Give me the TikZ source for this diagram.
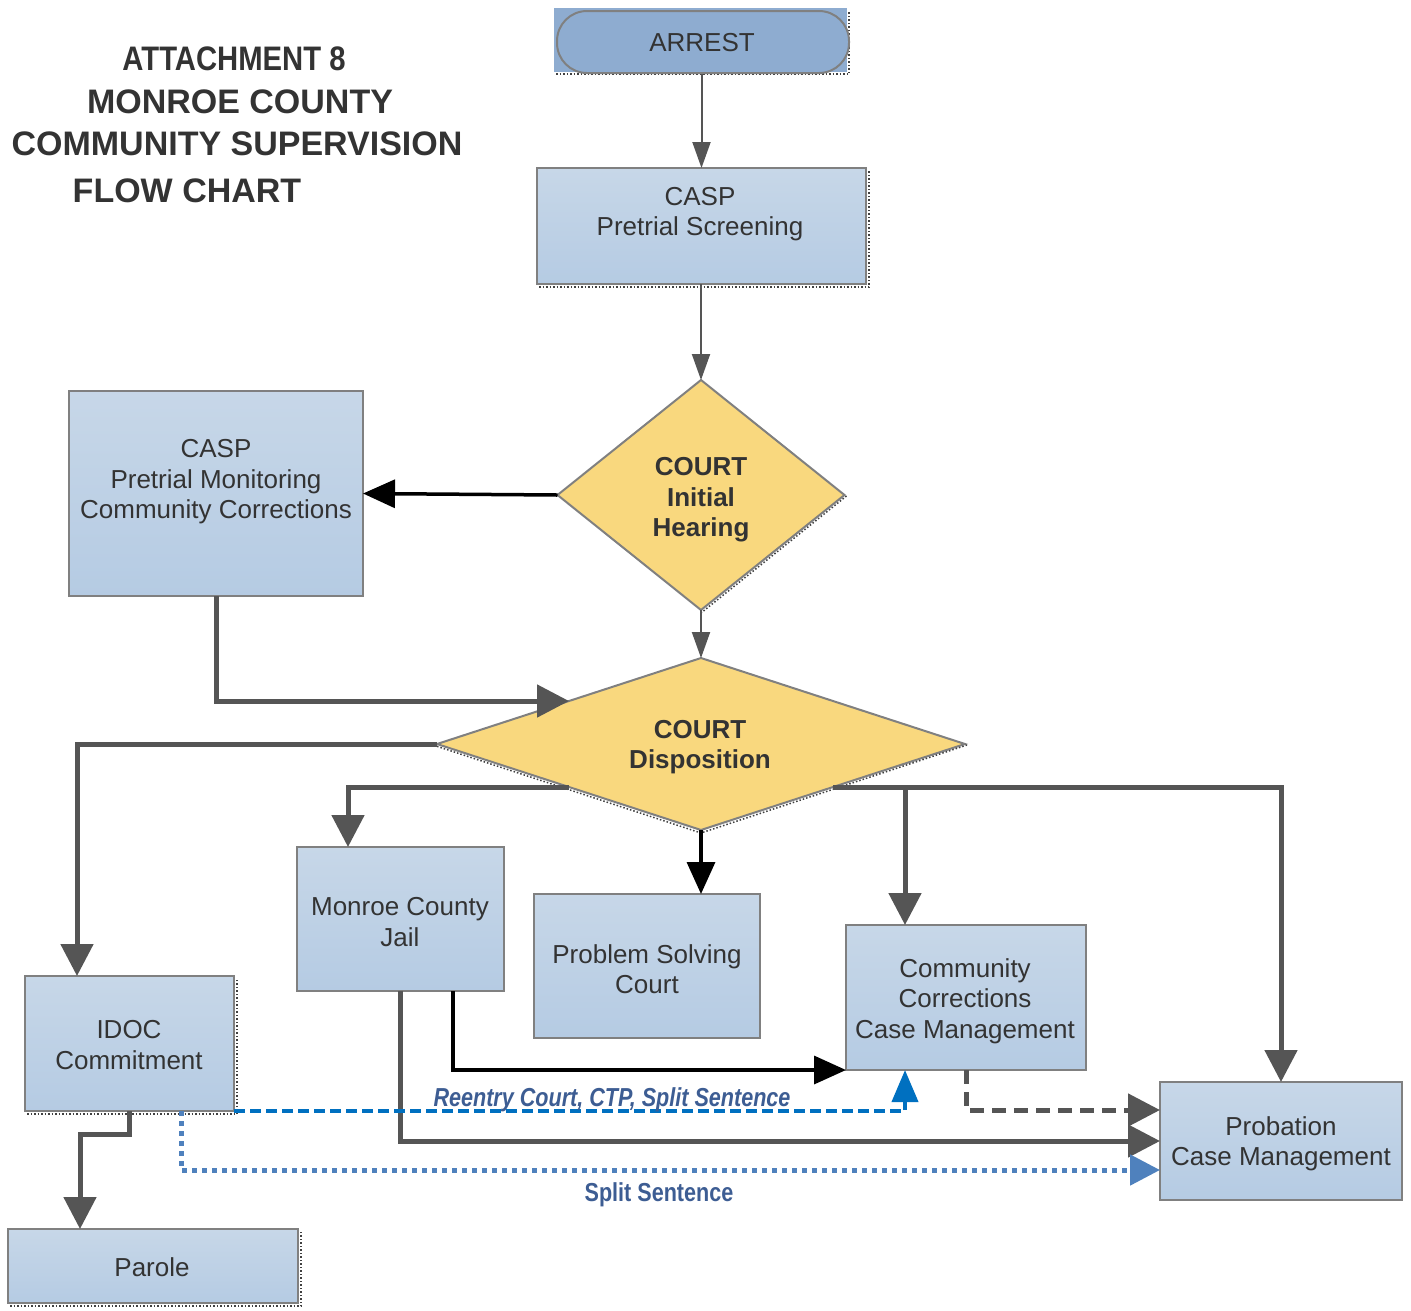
\documentclass[tikz,border=0pt]{standalone}
\usepackage{fontspec}
\setmainfont{Liberation Sans}
\usetikzlibrary{arrows.meta,shapes.geometric,calc}
\definecolor{boxtop}{HTML}{C7D7E8}
\definecolor{boxbot}{HTML}{B5CBE3}
\definecolor{bordergray}{HTML}{808080}
\definecolor{diafill}{HTML}{F9D87E}
\definecolor{arrestfill}{HTML}{8EACD0}
\definecolor{linegray}{HTML}{555555}
\definecolor{textgray}{HTML}{333333}
\definecolor{bluedash}{HTML}{0070C0}
\definecolor{bluedot}{HTML}{4F81BD}
\definecolor{labelblue}{HTML}{3D5D93}
\begin{document}
\begin{tikzpicture}[x=1pt,y=-1pt,
  box/.style={rectangle, draw=bordergray, line width=2pt, top color=boxtop, bottom color=boxbot, inner sep=0pt, outer sep=0pt, anchor=north west},
  dia/.style={diamond, draw=bordergray, line width=2pt, fill=diafill, inner sep=0pt, outer sep=0pt},
  txt/.style={font=\fontsize{26}{30.5}\selectfont, text=textgray, align=center, inner sep=0pt},
  btxt/.style={font=\fontsize{26}{30.5}\selectfont\bfseries, text=textgray, align=center, inner sep=0pt},
  ttl/.style={font=\fontsize{34}{40}\selectfont\bfseries, text=textgray, inner sep=0pt, anchor=base},
  lbl/.style={font=\fontsize{26}{30}\selectfont\bfseries, text=labelblue, inner sep=0pt},
  thinarr/.style={draw=linegray, line width=2pt, -{Triangle[width=18pt,length=26pt]}},
  thickarr/.style={draw=linegray, line width=5pt, -{Triangle[width=32pt,length=32pt]}},
  blackarr/.style={draw=black, line width=3.5pt, -{Triangle[width=28pt,length=32pt]}},
  shadow/.style={draw=black!75, line width=1.5pt, dotted},
]
\useasboundingbox (0,0) rectangle (1411,1310);

% title
\node[ttl] (t1) at (234,70) {\scalebox{0.86}[1]{ATTACHMENT 8}};
\node[ttl] (t2) at (240,113) {MONROE COUNTY};
\node[ttl] (t3) at (237,155) {COMMUNITY SUPERVISION};
\node[ttl] (t4) at (187,202) {FLOW CHART};

% arrest
\draw[shadow] (556,74) -- (849,74) -- (849,12);
\node[rectangle, fill=arrestfill, minimum width=293pt, minimum height=64pt, inner sep=0pt, anchor=north west] (arrestbg) at (554,8) {};
\node[rectangle, rounded corners=30pt, draw=bordergray, line width=2pt, fill=arrestfill, minimum width=292pt, minimum height=62pt, inner sep=0pt, anchor=north west] (arrest) at (556,10) {};
\node[txt] (arrestt) at (702,43) {ARREST};

% boxes
\node[box, minimum width=329pt, minimum height=116pt] (casp) at (537,168) {};
\draw[shadow] ($(casp.south west)+(2,3)$) -- ($(casp.south east)+(3,3)$) -- ($(casp.north east)+(3,2)$);
\node[txt] (caspt) at (700,214) {CASP\\Pretrial Screening};

\node[box, minimum width=294pt, minimum height=205pt] (pm) at (69,391) {};
\node[txt] (pmt) at (216,482) {CASP\\Pretrial Monitoring\\Community Corrections};

\node[box, minimum width=207pt, minimum height=144pt] (jail) at (297,847) {};
\node[txt] (jailt) at (400,922) {Monroe County\\Jail};

\node[box, minimum width=226pt, minimum height=144pt] (psc) at (534,894) {};
\node[txt] (psct) at (647,969) {Problem Solving\\Court};

\node[box, minimum width=240pt, minimum height=145pt] (cc) at (846,925) {};
\node[txt] (cct) at (965,1001) {Community\\Corrections\\Case Management};

\node[box, minimum width=209pt, minimum height=135pt] (idoc) at (25,976) {};
\draw[shadow] ($(idoc.south west)+(2,3)$) -- ($(idoc.south east)+(3,3)$) -- ($(idoc.north east)+(3,2)$);
\node[txt] (idoct) at (129,1045) {IDOC\\Commitment};

\node[box, minimum width=290pt, minimum height=74pt] (parole) at (8,1229) {};
\draw[shadow] ($(parole.south west)+(2,3)$) -- ($(parole.south east)+(3,3)$) -- ($(parole.north east)+(3,2)$);
\node[txt] (parolet) at (152,1267) {Parole};

\node[box, minimum width=242pt, minimum height=118pt] (prob) at (1160,1082) {};
\node[txt] (probt) at (1281,1144) {Probation\\Case Management};

% diamonds
\node[dia, minimum width=287pt, minimum height=230pt] (d1) at (701,495) {};
\draw[shadow] ($(d1.east)+(2,1)$) -- ($(d1.south)+(0,3)$);
\node[btxt] (d1t) at (701,500) {COURT\\Initial\\Hearing};
\node[dia, minimum width=528pt, minimum height=172pt] (d2) at (701,744) {};
\draw[shadow] ($(d2.east)+(2,1)$) -- ($(d2.south)+(0,3)$) -- ($(d2.west)+(-1,2)$);
\node[btxt] (d2t) at (700,747) {COURT\\Disposition};

% thin connectors
\draw[thinarr] (casp.north |- arrest.south) -- (casp.north);
\draw[thinarr] (d1.north |- casp.south) -- (d1.north);
\draw[thinarr] (d1.south) -- (d2.north);

% initial hearing -> pretrial monitoring
\draw[blackarr] (d1.west) -- (pm.east);

% pretrial monitoring -> disposition
\draw[thickarr] (pm.south) |- (d2.north west);

% disposition branches
\draw[thickarr] (d2.west) -| (idoc.north -| 77,0);
\draw[thickarr] (d2.south west) -| (jail.north -| 348,0);
\draw[blackarr] (d2.south) -- (psc.north -| d2.south);
\draw[thickarr] (d2.south east) -| (prob.north);
\draw[thickarr] (d2.south east -| 905,0) -- (cc.north -| 905,0);

% jail outputs
\draw[blackarr] (jail.south -| 453,0) |- (cc.south west);
\draw[thickarr] (jail.south) |- (prob.west);

% cc -> probation dashed
\draw[thickarr, dash pattern=on 14pt off 8pt] (cc.south) |- (prob.west |- 0,1110);

% idoc outputs
\draw[draw=bluedash, line width=4pt, dash pattern=on 11pt off 5pt, -{Triangle[width=26pt,length=32pt]}] (idoc.south east) -| (cc.south -| 905,0);
\draw[draw=bluedot, line width=5pt, dash pattern=on 5pt off 5pt, -{Triangle[width=30pt,length=30pt]}] (idoc.south -| 181,0) |- (prob.west |- 0,1170);
\draw[thickarr] (idoc.south) -- ++(0,23) -| (parole.north -| 80,0);

% labels
\node[lbl, font=\fontsize{26}{30}\selectfont\bfseries\itshape] (l1) at (612,1100) {\scalebox{0.83}[1]{Reentry Court, CTP, Split Sentence}};
\node[lbl] (l2) at (659,1195) {\scalebox{0.83}[1]{Split Sentence}};
\end{tikzpicture}
\end{document}
